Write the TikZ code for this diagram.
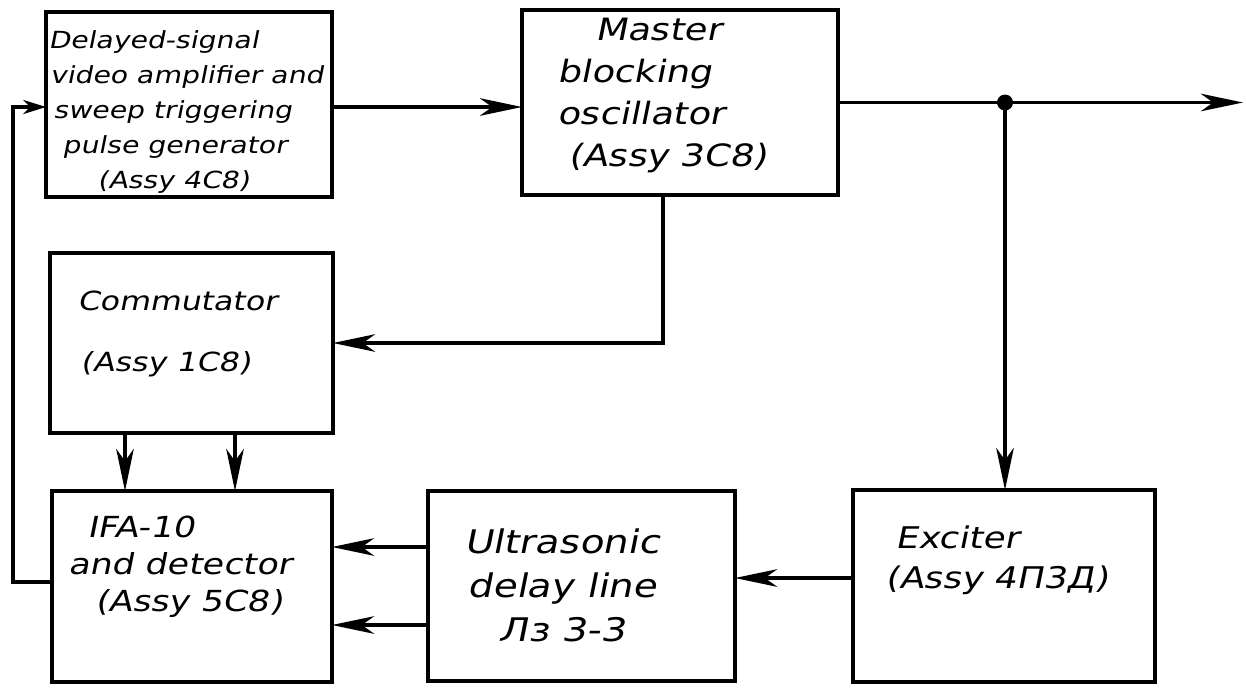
\documentclass[tikz,border=0pt]{standalone}
\usepackage{fontspec}
\newfontfamily\hand{DejaVu Sans}[FakeSlant=0.2,FakeStretch=1.2]
\usetikzlibrary{arrows.meta}
\tikzset{barb/.tip={Stealth[length=24pt,width=10pt,inset=7pt]},
  smallbarb/.tip={Stealth[length=13pt,width=8pt,inset=4pt]}}
\begin{document}
\begin{tikzpicture}[x=0.02cm,y=-0.02cm,
  box/.style={draw, line width=2.3pt, inner sep=0pt, outer sep=0pt},
  lbl/.style={align=left, inner sep=0pt, anchor=west},
  conn/.style={line width=2.1pt},
  arr/.style={conn, -barb}]
\useasboundingbox[fill=white] (0,0) rectangle (1246,697);
% boxes
\node[box, minimum width=5.72cm, minimum height=3.7cm] (b1) at (189,104.5) {};
\node[box, minimum width=6.32cm, minimum height=3.7cm] (mbo) at (680,102.5) {};
\node[box, minimum width=5.66cm, minimum height=3.6cm] (comm) at (191.5,343) {};
\node[box, minimum width=5.6cm, minimum height=3.82cm] (ifa) at (192,586.5) {};
\node[box, minimum width=6.14cm, minimum height=3.8cm] (ult) at (581.5,586) {};
\node[box, minimum width=6.04cm, minimum height=3.84cm] (exc) at (1004,586) {};
% labels
\node[lbl, font=\hand\fontsize{13.4}{19.9}\selectfont] (t1) at (48,112) {Delayed-signal\\\hspace*{0.03cm}video amplifier and\\\hspace*{0.1cm}sweep triggering\\\hspace*{0.28cm}pulse generator\\\hspace*{0.98cm}(Assy 4C8)};
\node[lbl, font=\hand\fontsize{17.5}{23.9}\selectfont] (t2) at (557,95) {\hspace*{0.76cm}Master\\blocking\\oscillator\\\hspace*{0.22cm}(Assy 3C8)};
\node[lbl, font=\hand\fontsize{15}{35}\selectfont] (t3) at (77,334) {Commutator\\\hspace*{0.06cm}(Assy 1C8)};
\node[lbl, font=\hand\fontsize{16.5}{21}\selectfont] (t4) at (68,567) {\hspace*{0.38cm}IFA-10\\and detector\\\hspace*{0.54cm}(Assy 5C8)};
\node[lbl, align=center, anchor=center, font=\hand\fontsize{18.5}{25}\selectfont] (t5) at (562,585) {Ultrasonic\\delay line\\Лз 3-3};
\node[lbl, font=\hand\fontsize{17}{22.8}\selectfont] (t6) at (885,560) {\hspace*{0.2cm}Exciter\\(Assy 4П3Д)};
% helper coordinates
\coordinate (j) at (1005,102.5);
\coordinate (outp) at (1243,102.5);
\coordinate (m1) at (663,343);
\coordinate (c1) at (125,0);
\coordinate (c2) at (235,0);
\coordinate (ye) at (0,578);
\coordinate (yu1) at (0,547);
\coordinate (yu2) at (0,625);
\coordinate (yf) at (0,582);
\coordinate (xf) at (13,0);
\coordinate (yb) at (0,107);
% connectors
\draw[arr] (b1.east |- yb) -- (mbo.west |- yb);
\draw[conn] (mbo.east) -- (j);
\draw[arr] (j) -- (outp);
\fill (j) circle (0.16cm);
\draw[arr] (j) -- (j |- exc.north);
\draw[arr] (mbo.south -| m1) -- (m1) -- (comm.east |- m1);
\draw[arr] (comm.south -| c1) -- (ifa.north -| c1);
\draw[arr] (comm.south -| c2) -- (ifa.north -| c2);
\draw[arr] (exc.west |- ye) -- (ult.east |- ye);
\draw[arr] (ult.west |- yu1) -- (ifa.east |- yu1);
\draw[arr] (ult.west |- yu2) -- (ifa.east |- yu2);
\draw[conn, -smallbarb] (ifa.west |- yf) -- (xf |- yf) -- (xf |- yb) -- (b1.west |- yb);
\end{tikzpicture}
\end{document}
